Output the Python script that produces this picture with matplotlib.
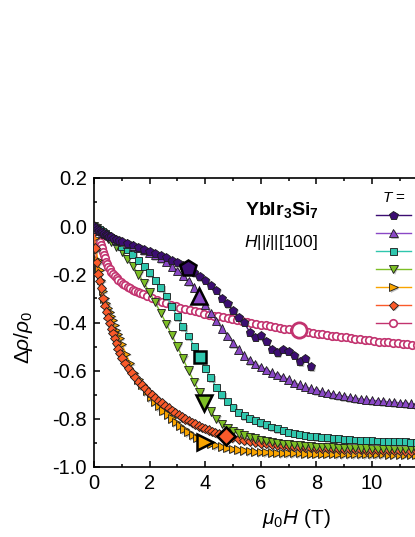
import matplotlib
matplotlib.use("Agg")
import matplotlib.pyplot as plt
import matplotlib.patheffects as pe

plt.rcParams['font.family'] = ['Liberation Sans', 'DejaVu Sans']
plt.rcParams['mathtext.fontset'] = 'custom'
plt.rcParams['mathtext.rm'] = 'Liberation Sans'
plt.rcParams['mathtext.it'] = 'Liberation Sans:italic'
plt.rcParams['mathtext.bf'] = 'Liberation Sans:bold'

# ---------------- data ----------------
h_a = [0, 0.06, 0.12, 0.18, 0.24, 0.3, 0.36, 0.42, 0.48, 0.54, 0.6, 0.7, 0.8, 0.9, 1.0,
       1.2, 1.4, 1.6, 1.8, 2.0, 2.2, 2.4, 2.6, 2.8, 3.0, 3.2, 3.4, 3.6, 3.8, 4.0, 4.2, 4.4,
       4.6, 4.8, 5.0, 5.2, 5.4, 5.6, 5.8, 6.0, 6.2, 6.4, 6.6, 6.8, 7.0, 7.2, 7.4, 7.6, 7.8]
r_a = [0, -0.006, -0.012, -0.017, -0.022, -0.026, -0.03, -0.034, -0.038, -0.041, -0.044,
       -0.049, -0.054, -0.059, -0.064,
       -0.07, -0.078, -0.088, -0.097, -0.105, -0.112, -0.12, -0.13, -0.142, -0.152, -0.162,
       -0.175, -0.193, -0.21, -0.225, -0.245, -0.265, -0.3, -0.322, -0.35, -0.378, -0.4,
       -0.44, -0.462, -0.455, -0.478, -0.51, -0.525, -0.51, -0.52, -0.535, -0.563, -0.548, -0.584]

h_grid = [0, 0.1, 0.2, 0.3, 0.4, 0.5, 0.6, 0.8, 1.0,
          1.2, 1.4, 1.6, 1.8, 2.0, 2.2, 2.4, 2.6, 2.8, 3.0, 3.2, 3.4, 3.6, 3.8, 4.0,
          4.2, 4.4, 4.6, 4.8, 5.0, 5.2, 5.4, 5.6, 5.8, 6.0, 6.2, 6.4, 6.6, 6.8, 7.0,
          7.2, 7.4, 7.6, 7.8, 8.0, 8.2, 8.4, 8.6, 8.8, 9.0, 9.2, 9.4, 9.6, 9.8, 10.0,
          10.2, 10.4, 10.6, 10.8, 11.0, 11.2, 11.4, 11.6, 11.8, 12.0]
h_b = h_grid
r_b = [0, -0.01, -0.018, -0.026, -0.032, -0.038, -0.044, -0.055, -0.065,
       -0.072, -0.08, -0.09, -0.1, -0.11, -0.12, -0.132, -0.148, -0.168, -0.185, -0.205,
       -0.228, -0.255, -0.29, -0.325, -0.36, -0.393, -0.425, -0.455, -0.485, -0.512,
       -0.537, -0.556, -0.571, -0.584, -0.596, -0.607, -0.617, -0.626, -0.636, -0.65,
       -0.658, -0.666, -0.674, -0.681, -0.687, -0.692, -0.697, -0.702, -0.706, -0.71,
       -0.714, -0.717, -0.72, -0.723, -0.725, -0.727, -0.729, -0.731, -0.733, -0.735,
       -0.737, -0.739, -0.741, -0.742]
h_c = h_grid
r_c = [0, -0.008, -0.015, -0.022, -0.03, -0.038, -0.047, -0.065, -0.083,
       -0.097, -0.118, -0.142, -0.168, -0.193, -0.224, -0.256, -0.29, -0.333, -0.377,
       -0.418, -0.456, -0.498, -0.542, -0.59, -0.63, -0.668, -0.7, -0.728, -0.752,
       -0.772, -0.787, -0.798, -0.807, -0.816, -0.825, -0.834, -0.842, -0.849, -0.855,
       -0.86, -0.864, -0.868, -0.872, -0.875, -0.877, -0.879, -0.881, -0.883, -0.885,
       -0.887, -0.888, -0.889, -0.89, -0.891, -0.892, -0.893, -0.894, -0.895, -0.896,
       -0.896, -0.897, -0.897, -0.898, -0.898]
h_d = h_grid
r_d = [0, -0.01, -0.02, -0.031, -0.042, -0.053, -0.065, -0.085, -0.105,
       -0.135, -0.165, -0.2, -0.236, -0.275, -0.316, -0.36, -0.405, -0.452, -0.5, -0.55,
       -0.6, -0.646, -0.69, -0.735, -0.77, -0.8, -0.821, -0.838, -0.851, -0.861, -0.869,
       -0.876, -0.882, -0.887, -0.892, -0.896, -0.9, -0.904, -0.907, -0.909, -0.911,
       -0.913, -0.915, -0.916, -0.917, -0.918, -0.919, -0.92, -0.921, -0.922, -0.922,
       -0.923, -0.923, -0.924, -0.924, -0.925, -0.925, -0.925, -0.926, -0.926, -0.926,
       -0.927, -0.927, -0.927]
h_e = [0, 0.02, 0.08, 0.14, 0.2, 0.26, 0.32, 0.38, 0.44, 0.5, 0.56, 0.62, 0.68, 0.74,
       0.8, 0.86, 0.92, 1.0, 1.15, 1.3, 1.45, 1.6, 1.75, 1.9, 2.05, 2.2, 2.35, 2.5, 2.65,
       2.8, 2.95, 3.1, 3.25, 3.4, 3.55, 3.7, 3.85, 4.0, 4.2, 4.4, 4.6, 4.8, 5.0, 5.2,
       5.4, 5.6, 5.8, 6.0, 6.2, 6.4, 6.6, 6.8, 7.0, 7.2, 7.4, 7.6, 7.8, 8.0, 8.2, 8.4,
       8.6, 8.8, 9.0, 9.2, 9.4, 9.6, 9.8, 10.0, 10.2, 10.4, 10.6, 10.8, 11.0, 11.2,
       11.4, 11.6, 11.8, 12.0]
r_e = [0, -0.05, -0.099, -0.14, -0.18, -0.224, -0.27, -0.3, -0.32, -0.338, -0.355,
       -0.372, -0.39, -0.41, -0.43, -0.448, -0.466, -0.49, -0.53, -0.57, -0.608, -0.636,
       -0.66, -0.685, -0.71, -0.728, -0.748, -0.766, -0.782, -0.798, -0.813, -0.828,
       -0.843, -0.856, -0.868, -0.879, -0.888, -0.895, -0.903, -0.91, -0.915, -0.92,
       -0.924, -0.928, -0.931, -0.934, -0.936, -0.938, -0.939, -0.94, -0.941, -0.942,
       -0.942, -0.943, -0.943, -0.944, -0.944, -0.944, -0.945, -0.945, -0.945, -0.946,
       -0.946, -0.946, -0.946, -0.947, -0.947, -0.947, -0.947, -0.947, -0.948, -0.948,
       -0.948, -0.948, -0.948, -0.948, -0.949, -0.949]
h_f = [0, 0.05, 0.1, 0.15, 0.2, 0.26, 0.32, 0.38, 0.44, 0.5, 0.56, 0.62, 0.68, 0.74,
       0.8, 0.86, 0.92, 1.0, 1.12, 1.24, 1.36, 1.48, 1.6, 1.72, 1.84, 1.96, 2.08, 2.2,
       2.32, 2.44, 2.56, 2.68, 2.8, 2.92, 3.04, 3.16, 3.28, 3.4, 3.52, 3.64, 3.76, 3.88,
       4.0, 4.12, 4.24, 4.36, 4.48, 4.6, 4.72, 4.84, 4.96, 5.2, 5.4, 5.6, 5.8, 6.0, 6.2,
       6.4, 6.6, 6.8, 7.0, 7.2, 7.4, 7.6, 7.8, 8.0, 8.2, 8.4, 8.6, 8.8, 9.0, 9.2, 9.4,
       9.6, 9.8, 10.0, 10.2, 10.4, 10.6, 10.8, 11.0, 11.2, 11.4, 11.6, 11.8, 12.0]
r_f = [0, -0.09, -0.15, -0.198, -0.228, -0.256, -0.3, -0.33, -0.355, -0.38, -0.403,
       -0.425, -0.445, -0.466, -0.487, -0.508, -0.528, -0.548, -0.57, -0.59, -0.61,
       -0.628, -0.645, -0.66, -0.674, -0.688, -0.7, -0.712, -0.724, -0.735, -0.745,
       -0.755, -0.765, -0.774, -0.783, -0.792, -0.8, -0.808, -0.815, -0.822, -0.829,
       -0.835, -0.841, -0.847, -0.852, -0.857, -0.862, -0.866, -0.87, -0.874, -0.878,
       -0.884, -0.889, -0.893, -0.897, -0.9, -0.903, -0.906, -0.909, -0.911, -0.913,
       -0.915, -0.917, -0.918, -0.92, -0.921, -0.922, -0.923, -0.924, -0.925, -0.926,
       -0.927, -0.928, -0.928, -0.929, -0.93, -0.93, -0.931, -0.931, -0.932, -0.932,
       -0.933, -0.933, -0.933, -0.934, -0.934]
h_g = [0, 0.04, 0.08, 0.12, 0.16, 0.2, 0.24, 0.28, 0.32, 0.36, 0.4, 0.44, 0.48, 0.52,
       0.57, 0.62, 0.68, 0.74, 0.81, 0.88, 0.96, 1.04, 1.12, 1.21, 1.3, 1.39, 1.48, 1.57,
       1.66, 1.75, 1.92, 2.09, 2.26, 2.43, 2.6, 2.77, 2.94, 3.11, 3.28, 3.45, 3.62, 3.79,
       3.96, 4.13, 4.3, 4.47, 4.64, 4.81, 4.98, 5.15, 5.32, 5.49, 5.66, 5.83, 6.0, 6.17,
       6.34, 6.51, 6.68, 6.85, 7.02, 7.19, 7.36, 7.53, 7.7, 7.87, 8.04, 8.21, 8.38, 8.55,
       8.72, 8.89, 9.06, 9.23, 9.4, 9.57, 9.74, 9.91, 10.08, 10.25, 10.42, 10.59, 10.76,
       10.93, 11.1, 11.27, 11.44, 11.61, 11.78, 11.95]
r_g = [0, -0.008, -0.016, -0.03, -0.047, -0.064, -0.078, -0.092, -0.106, -0.12, -0.133,
       -0.147, -0.158, -0.168, -0.179, -0.189, -0.198, -0.207, -0.216, -0.224, -0.232,
       -0.24, -0.246, -0.252, -0.258, -0.264, -0.269, -0.274, -0.279, -0.283, -0.291,
       -0.3, -0.307, -0.313, -0.32, -0.326, -0.332, -0.338, -0.343, -0.348, -0.353,
       -0.358, -0.363, -0.367, -0.371, -0.375, -0.379, -0.383, -0.387, -0.391, -0.395,
       -0.399, -0.402, -0.406, -0.409, -0.412, -0.416, -0.419, -0.422, -0.425, -0.428,
       -0.431, -0.434, -0.437, -0.44, -0.443, -0.446, -0.448, -0.451, -0.454, -0.456,
       -0.459, -0.462, -0.464, -0.467, -0.469, -0.472, -0.474, -0.477, -0.479, -0.481,
       -0.483, -0.485, -0.487, -0.489, -0.491, -0.493, -0.495, -0.497, -0.499]

# highlighted (large) points, one per curve in legend order
hl_h = [3.38, 3.76, 3.8, 3.97, 4.0, 4.75, 7.38]
hl_r = [-0.173, -0.29, -0.542, -0.736, -0.898, -0.873, -0.433]

x_ticks = [0, 2, 4, 6, 8, 10, 12, 14]
x_ticklabels = ['0', '2', '4', '6', '8', '10', '', '']
y_ticks = [0.2, 0.0, -0.2, -0.4, -0.6, -0.8, -1.0]
y_ticklabels = ['0.2', '0.0', '-0.2', '-0.4', '-0.6', '-0.8', '-1.0']

# ---------------- style ----------------
series = [
    (h_a, r_a, 'p', '#3c0d72', 6.3),
    (h_b, r_b, '^', '#8a48c6', 6.0),
    (h_c, r_c, 's', '#2fc6ad', 5.0),
    (h_d, r_d, 'v', '#7dbf25', 6.0),
    (h_e, r_e, '>', '#f9a400', 6.0),
    (h_f, r_f, 'D', '#fa5a2a', 4.8),
    (h_g, r_g, 'o', '#c2336f', 5.4),
]
zorders = [9, 8, 7, 6, 4, 5, 3]

W, H = 415, 537
fig = plt.figure(figsize=(W / 100, H / 100), dpi=100)
px_per_T = 27.8
ax = fig.add_axes([94 / W, 70 / H, 14 * px_per_T / W, 289 / H])

shadow = [pe.SimplePatchShadow(offset=(1.0, -1.0), shadow_rgbFace='0.5', alpha=0.5), pe.Normal()]

handles = []
for (hx, ry, mk, col, ms), z in zip(series, zorders):
    ln, = ax.plot(hx, ry, '-', color=col, lw=1.0, zorder=z)
    if mk == 'o':
        m, = ax.plot(hx, ry, ls='none', marker=mk, ms=ms, mfc='white', mec=col,
                     mew=1.2, zorder=z + 0.5)
    else:
        m, = ax.plot(hx, ry, ls='none', marker=mk, ms=ms, mfc=col, mec='#1a1a1a',
                     mew=0.6, zorder=z + 0.5, path_effects=shadow)
    handles.append((ln, m))

for i, (hx, ry, mk, col, ms) in enumerate(series):
    if mk == 'o':
        ax.plot(hl_h[i], hl_r[i], ls='none', marker=mk, ms=11, mfc='white', mec=col,
                mew=2.0, zorder=20)
    else:
        ax.plot(hl_h[i], hl_r[i], ls='none', marker=mk, ms=ms * 1.85, mfc=col, mec='black',
                mew=1.8, zorder=20)

ax.set_xlim(0, 14)
ax.set_ylim(-1.0, 0.2)
ax.set_xticks(x_ticks)
ax.set_xticklabels(x_ticklabels)
ax.set_xticks([1, 3, 5, 7, 9, 11, 13], minor=True)
ax.set_yticks(y_ticks)
ax.set_yticklabels(y_ticklabels)
ax.set_yticks([0.1, -0.1, -0.3, -0.5, -0.7, -0.9], minor=True)
ax.tick_params(which='both', direction='in', top=True, right=True, width=1.1,
               labelsize=14.5, pad=5)
ax.tick_params(which='major', length=4)
ax.tick_params(which='minor', length=2.2)
for s in ax.spines.values():
    s.set_linewidth(1.2)

ax.set_xlabel(r'$\mu_0H$ (T)', fontsize=15)
ax.xaxis.set_label_coords((296 - 94) / (14 * px_per_T), -0.14)
ax.set_ylabel(r'$\Delta\rho/\rho_0$', fontsize=15, va='center')
ax.yaxis.set_label_coords((23 - 94) / (14 * px_per_T), (537 - 337 - 70) / 289)

ax.text((282 - 94) / (14 * px_per_T), (537 - 210 - 70) / 289, r'$\mathbf{YbIr_3Si_7}$',
        transform=ax.transAxes, ha='center', va='center', fontsize=14)
ax.text((281 - 94) / (14 * px_per_T), (537 - 242 - 70) / 289, r'$H$||$i$||[100]',
        transform=ax.transAxes, ha='center', va='center', fontsize=12.5)

leg = ax.legend(handles, [''] * 7, loc='upper left', bbox_to_anchor=(376 / W, 1 - 191 / H),
                bbox_transform=fig.transFigure, frameon=False, fontsize=10,
                handlelength=2.5, handletextpad=0, borderpad=0, borderaxespad=0,
                labelspacing=0.29, title=r'$T$ =', title_fontsize=11)

fig.savefig('out.png', dpi=100)
